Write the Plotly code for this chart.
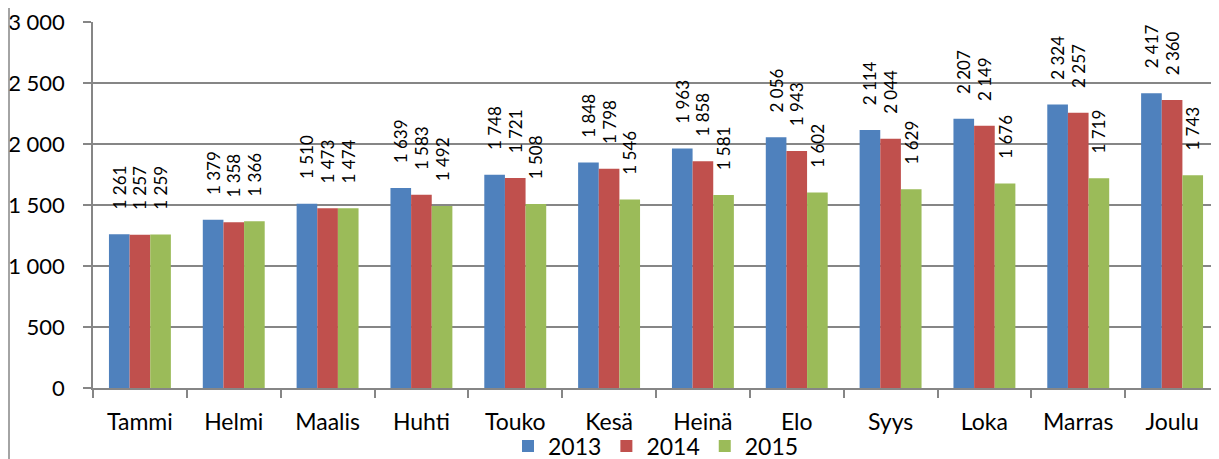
import plotly.graph_objects as go

months = ["Tammi", "Helmi", "Maalis", "Huhti", "Touko", "Kesä", "Heinä", "Elo", "Syys", "Loka", "Marras", "Joulu"]
v2013 = [1261, 1379, 1510, 1639, 1748, 1848, 1963, 2056, 2114, 2207, 2324, 2417]
v2014 = [1257, 1358, 1473, 1583, 1721, 1798, 1858, 1943, 2044, 2149, 2257, 2360]
v2015 = [1259, 1366, 1474, 1492, 1508, 1546, 1581, 1602, 1629, 1676, 1719, 1743]
series = [("2013", v2013, "#4F81BD"), ("2014", v2014, "#C0504D"), ("2015", v2015, "#9BBB59")]
yticks = [0, 500, 1000, 1500, 2000, 2500, 3000]

def fmt(v):
    return f"{v:,}".replace(",", " ")

FONT = "Lato, Carlito, Calibri, sans-serif"
PAD = "\u00a0" * 5
fig = go.Figure()
for name, vals, col in series:
    fig.add_trace(go.Bar(
        x=months, y=vals, name=name, marker=dict(color=col, line=dict(width=0)),
        text=[PAD + fmt(v) for v in vals], textposition="outside", textangle=-90,
        constraintext="none", cliponaxis=False,
        textfont=dict(family=FONT, size=17, color="#000000"),
    ))

# page body has an 8px margin, so the figure is sized to end at the window edge
fig.update_layout(
    width=1211, height=451,
    margin=dict(l=85, r=0, t=14, b=71, autoexpand=False),
    paper_bgcolor="white", plot_bgcolor="white",
    barmode="group", bargap=0.34, bargroupgap=0,
    font=dict(family=FONT, size=23, color="#000000"),
    showlegend=True,
    legend=dict(orientation="h", x=0.5, xanchor="center", y=-0.1, yanchor="top",
                font=dict(family=FONT, size=23), itemwidth=30, tracegroupgap=0,
                bgcolor="rgba(0,0,0,0)"),
    xaxis=dict(showline=True, linecolor="#868686", linewidth=1.5, ticks="outside",
               tickson="boundaries", ticklen=8, tickcolor="#868686", tickwidth=1.5,
               showgrid=False, tickfont=dict(family=FONT, size=23), automargin=False,
               ticklabelstandoff=13),
    yaxis=dict(range=[0, 3000], tickvals=yticks, ticktext=[fmt(v) for v in yticks],
               showline=True, linecolor="#868686", linewidth=1.5, ticks="outside",
               ticklen=8, tickcolor="#868686", tickwidth=1.5,
               showgrid=True, gridcolor="#868686", gridwidth=1.5, zeroline=False,
               tickfont=dict(family=FONT, size=22), automargin=False,
               ticklabelstandoff=14, ticklabeloverflow="allow"),
)
fig.add_shape(type="line", xref="paper", yref="paper", x0=-84/1126, x1=-84/1126,
              y0=-71/366, y1=1 + 14/366, line=dict(color="#868686", width=1.5))
fig.write_html("out.html")
